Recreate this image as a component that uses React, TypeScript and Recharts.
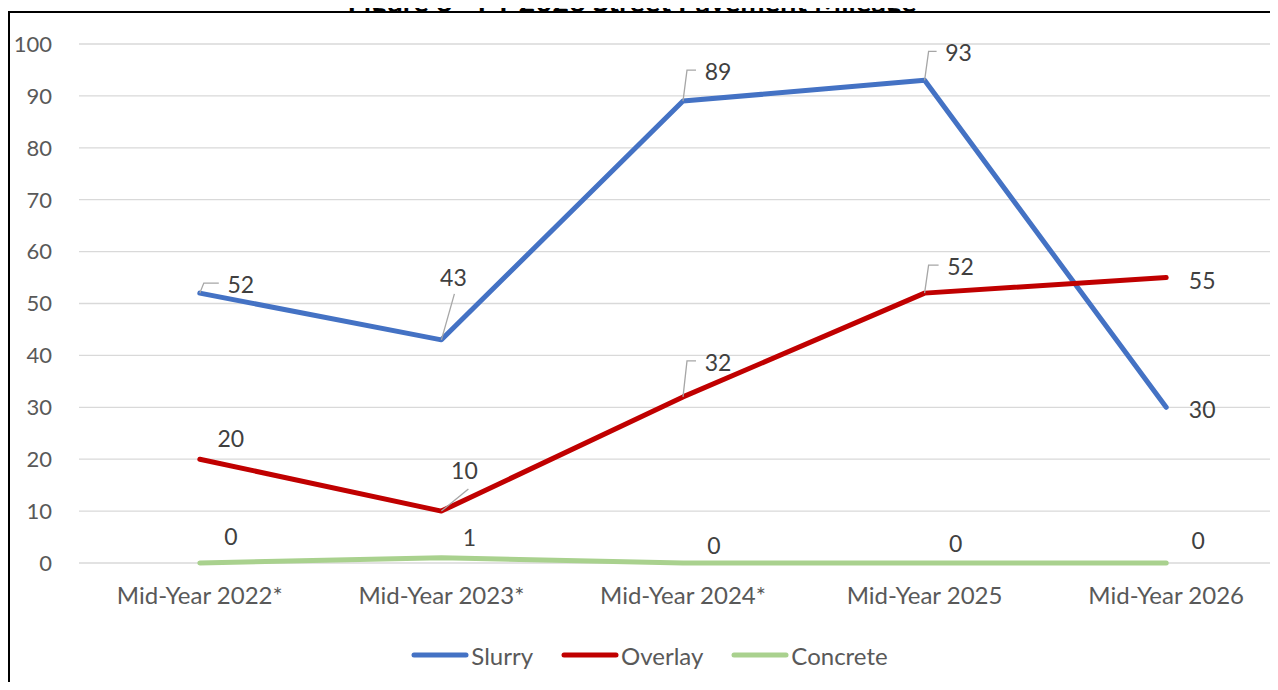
import React from 'react';
import { LineChart, Line, XAxis, YAxis, CartesianGrid, Legend } from 'recharts';

// values
const categories = ['Mid-Year 2022*', 'Mid-Year 2023*', 'Mid-Year 2024*', 'Mid-Year 2025', 'Mid-Year 2026'];
const slurry = [52, 43, 89, 93, 30];
const overlay = [20, 10, 32, 52, 55];
const concrete = [0, 1, 0, 0, 0];
const yTicks = [0, 10, 20, 30, 40, 50, 60, 70, 80, 90, 100];

const seriesNames = ['Slurry', 'Overlay', 'Concrete'];
const seriesColors = ['#4472C4', '#C00000', '#A9D18E'];

// label placement relative to the point (style only)
type LabelPos = { dx: number; dy: number; leader?: 'elbow' | 'line'; lx?: number; ly?: number };
const slurryLabels: LabelPos[] = [
  { dx: 41, dy: -9, leader: 'elbow' },
  { dx: 12, dy: -63, leader: 'line', lx: 13, ly: -46 },
  { dx: 35, dy: -30, leader: 'elbow' },
  { dx: 34, dy: -28, leader: 'elbow' },
  { dx: 36, dy: 2 },
];
const overlayLabels: LabelPos[] = [
  { dx: 31, dy: -21 },
  { dx: 23, dy: -41, leader: 'line', lx: 27, ly: -22 },
  { dx: 35, dy: -35, leader: 'elbow' },
  { dx: 36, dy: -27, leader: 'elbow' },
  { dx: 36, dy: 2 },
];
const concreteLabels: LabelPos[] = [
  { dx: 31, dy: -27 },
  { dx: 28, dy: -21 },
  { dx: 31, dy: -18 },
  { dx: 31, dy: -20 },
  { dx: 32, dy: -23 },
];

const data = categories.map((name, i) => ({
  name,
  Slurry: slurry[i],
  Overlay: overlay[i],
  Concrete: concrete[i],
}));

const FONT = 'Lato, "Open Sans", sans-serif';

const makeLabel = (positions: LabelPos[]) => (props: any) => {
  const { x, y, value, index } = props;
  const p = positions[index];
  if (!p || x == null || y == null) return null;
  const tx = x + p.dx;
  const ty = y + p.dy;
  let leader: React.ReactNode = null;
  if (p.leader === 'elbow') {
    leader = (
      <polyline
        points={`${x},${y} ${x + 4},${ty - 1} ${tx - 22},${ty - 1}`}
        fill="none"
        stroke="#A6A6A6"
        strokeWidth={1.3}
      />
    );
  } else if (p.leader === 'line') {
    leader = (
      <line x1={x} y1={y} x2={x + (p.lx ?? 0)} y2={y + (p.ly ?? 0)} stroke="#A6A6A6" strokeWidth={1.3} />
    );
  }
  return (
    <g key={`lbl-${index}`}>
      {leader}
      <text
        x={tx}
        y={ty}
        textAnchor="middle"
        dominantBaseline="central"
        fontFamily={FONT}
        fontSize={23}
        fill="#404040"
      >
        {value}
      </text>
    </g>
  );
};

const renderLegend = () => (
  <div
    style={{
      display: 'flex',
      justifyContent: 'center',
      alignItems: 'center',
      height: 30,
      fontFamily: FONT,
      fontSize: 24,
      color: '#595959',
      paddingLeft: 12,
    }}
  >
    {seriesNames.map((name, i) => (
      <div key={name} style={{ display: 'flex', alignItems: 'center', marginRight: i < 2 ? 28 : 0 }}>
        <svg width={58} height={10} style={{ marginRight: 2 }}>
          <line x1={3} y1={5} x2={55} y2={5} stroke={seriesColors[i]} strokeWidth={5} strokeLinecap="round" />
        </svg>
        <span>{name}</span>
      </div>
    ))}
  </div>
);

const App: React.FC = () => {
  return (
    <div
      style={{
        position: 'relative',
        width: 1278,
        height: 690,
        margin: -8,
        overflow: 'hidden',
        background: '#fff',
      }}
    >
      <div
        style={{
          position: 'absolute',
          left: 8,
          top: 11,
          width: 1400,
          height: 800,
          border: '2px solid #000',
        }}
      />
      <div style={{ position: 'absolute', left: 0, top: 0 }}>
        <LineChart width={1300} height={690} data={data} margin={{ top: 44, right: 13, bottom: 67, left: 0 }}>
          <CartesianGrid horizontal vertical={false} stroke="#D9D9D9" strokeWidth={1.3} />
          <XAxis
            dataKey="name"
            scale="band"
            axisLine={false}
            tickLine={false}
            tickSize={0}
            tickMargin={24}
            height={30}
            interval={0}
            tick={{ fontFamily: FONT, fontSize: 24, fill: '#595959' }}
          />
          <YAxis
            domain={[0, 100]}
            ticks={yTicks}
            width={79}
            axisLine={false}
            tickLine={false}
            tickSize={0}
            tickMargin={27}
            tick={{ fontFamily: FONT, fontSize: 22, fill: '#595959' }}
          />
          <Legend verticalAlign="bottom" height={30} content={renderLegend} wrapperStyle={{ bottom: 20 }} />
          <Line
            dataKey="Slurry"
            stroke={seriesColors[0]}
            strokeWidth={5}
            dot={false}
            activeDot={false}
            strokeLinecap="round"
            strokeLinejoin="round"
            isAnimationActive={false}
            label={makeLabel(slurryLabels)}
          />
          <Line
            dataKey="Overlay"
            stroke={seriesColors[1]}
            strokeWidth={5}
            dot={false}
            activeDot={false}
            strokeLinecap="round"
            strokeLinejoin="round"
            isAnimationActive={false}
            label={makeLabel(overlayLabels)}
          />
          <Line
            dataKey="Concrete"
            stroke={seriesColors[2]}
            strokeWidth={5}
            dot={false}
            activeDot={false}
            strokeLinecap="round"
            strokeLinejoin="round"
            isAnimationActive={false}
            label={makeLabel(concreteLabels)}
          />
        </LineChart>
      </div>
      {/* title drawn last, above the frame; only its lower part is inside the page */}
      <svg width={1278} height={11} style={{ position: 'absolute', left: 0, top: 0, display: 'block' }}>
        <text x={632} y={12} textAnchor="middle" fontFamily={FONT} fontWeight={700} fontSize={29} fill="#000">
          Figure 6 - FY 2026 Street Pavement Mileage
        </text>
      </svg>
    </div>
  );
};

export default App;
